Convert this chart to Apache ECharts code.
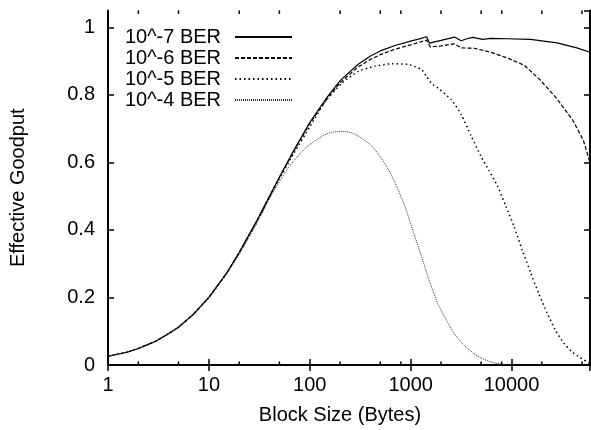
<!DOCTYPE html>
<html><head><meta charset="utf-8">
<script src="https://cdn.jsdelivr.net/npm/echarts@6/dist/echarts.min.js"></script>
<style>html,body{margin:0;padding:0;background:#fff}#c{width:591px;height:430px}</style>
</head><body><div id="c"></div>
<script>
const seriesNames = ['10^-7 BER', '10^-6 BER', '10^-5 BER', '10^-4 BER'];
const xTickLabels = [1, 10, 100, 1000, 10000];
const minorTicks = [2, 5, 20, 50, 200, 500, 800, 2000, 5000, 8000, 20000, 50000];

const x7 = [1, 1.5, 2, 3, 4, 5, 7, 10, 15, 20, 30, 40, 50, 70, 100, 150, 200, 300, 400, 500, 700, 1000, 1200, 1440, 1540, 2000, 2720, 3170, 3600, 4130, 5170, 6240, 9110, 15450, 28270, 44460, 60000];
const y7 = [0.026, 0.037, 0.049, 0.071, 0.093, 0.112, 0.150, 0.200, 0.272, 0.333, 0.428, 0.500, 0.556, 0.637, 0.718, 0.795, 0.842, 0.890, 0.915, 0.930, 0.946, 0.959, 0.965, 0.972, 0.953, 0.961, 0.971, 0.960, 0.966, 0.970, 0.964, 0.967, 0.966, 0.964, 0.954, 0.939, 0.926];

const x6 = [1, 1.5, 2, 3, 4, 5, 7, 10, 15, 20, 30, 40, 50, 70, 100, 150, 200, 300, 400, 500, 700, 1000, 1200, 1440, 1560, 2000, 2720, 3170, 4250, 6240, 9110, 13300, 19100, 27900, 40500, 51600, 60000];
const y6 = [0.026, 0.037, 0.049, 0.071, 0.093, 0.112, 0.150, 0.200, 0.272, 0.333, 0.428, 0.500, 0.555, 0.635, 0.715, 0.790, 0.836, 0.882, 0.905, 0.919, 0.935, 0.948, 0.955, 0.962, 0.942, 0.945, 0.951, 0.939, 0.938, 0.926, 0.909, 0.888, 0.845, 0.790, 0.725, 0.665, 0.599];

const x5 = [1, 1.5, 2, 3, 4, 5, 7, 10, 15, 20, 30, 40, 50, 70, 100, 143, 209, 305, 444, 649, 945, 1280, 1433, 1600, 1870, 2520, 3170, 3980, 4980, 6000, 7260, 8800, 10600, 12800, 15500, 18700, 22500, 27000, 32800, 39500, 47900, 60000];
const y5 = [0.026, 0.037, 0.049, 0.071, 0.093, 0.112, 0.150, 0.200, 0.272, 0.333, 0.427, 0.498, 0.552, 0.628, 0.705, 0.781, 0.835, 0.870, 0.885, 0.892, 0.890, 0.875, 0.855, 0.835, 0.820, 0.786, 0.742, 0.678, 0.618, 0.575, 0.530, 0.470, 0.410, 0.340, 0.273, 0.210, 0.155, 0.105, 0.066, 0.040, 0.022, 0.004];

const x4 = [1, 1.5, 2, 3, 4, 5, 7, 10, 15, 20, 25, 30, 43, 63, 91, 133, 160, 201, 240, 283, 340, 413, 500, 603, 730, 877, 1050, 1280, 1550, 1870, 2340, 2720, 3410, 4200, 4980, 6000, 7000, 8500, 10000];
const y4 = [0.026, 0.037, 0.049, 0.071, 0.093, 0.112, 0.150, 0.200, 0.270, 0.328, 0.378, 0.420, 0.510, 0.589, 0.643, 0.678, 0.688, 0.692, 0.690, 0.683, 0.668, 0.648, 0.617, 0.579, 0.528, 0.470, 0.400, 0.322, 0.245, 0.180, 0.125, 0.092, 0.058, 0.035, 0.021, 0.011, 0.005, 0.001, 0];

const pair = (xs, ys) => xs.map((x, i) => [x, ys[i]]);
const FONT = 'Liberation Sans, Arial, Helvetica, sans-serif';
const FS = 20;

const styles = [
  {color: '#000', width: 1.2, type: 'solid', smooth: false},
  {color: '#000', width: 1.2, type: [4, 2], smooth: false},
  {color: '#000', width: 1.5, type: [1.5, 3], smooth: 0.2},
  {color: '#333', width: 1, type: [1, 1], smooth: 0.2}
];
const dataSets = [pair(x7, y7), pair(x6, y6), pair(x5, y5), pair(x4, y4)];

const lineSeries = seriesNames.map((n, i) => ({
  name: n, type: 'line', data: dataSets[i], symbol: 'none', showSymbol: false,
  smooth: styles[i].smooth, clip: true,
  lineStyle: {color: styles[i].color, width: styles[i].width, type: styles[i].type},
  itemStyle: {color: styles[i].color},
  z: 3
}));

const minorSeries = {
  type: 'custom', silent: true, clip: false, z: 4,
  data: minorTicks.map(v => [v, 0]),
  encode: {x: 0, y: 1},
  renderItem: function (params, api) {
    const v = api.value(0);
    const b = api.coord([v, 0]);
    const t = api.coord([v, 1.05]);
    return {type: 'group', children: [
      {type: 'line', shape: {x1: b[0], y1: b[1], x2: b[0], y2: b[1] - 3.5}, style: {stroke: '#000', lineWidth: 1.5}},
      {type: 'line', shape: {x1: t[0], y1: t[1], x2: t[0], y2: t[1] + 3.5}, style: {stroke: '#000', lineWidth: 1.5}}
    ]};
  }
};

const axisLineStyle = {show: true, lineStyle: {color: '#000', width: 2}};
const xBase = {
  type: 'log', logBase: 10, min: 1, max: 60000,
  splitLine: {show: false}, minorTick: {show: false},
  axisLine: axisLineStyle,
  axisTick: {show: true, inside: true, length: 6, lineStyle: {color: '#000', width: 1.5}}
};
const yBase = {
  type: 'value', min: 0, max: 1.05, interval: 0.2,
  splitLine: {show: false},
  axisLine: axisLineStyle,
  axisTick: {show: true, inside: true, length: 6, lineStyle: {color: '#000', width: 1.5}}
};

const chart = echarts.init(document.getElementById('c'), null, {renderer: 'canvas'});
chart.setOption({
  animation: false,
  backgroundColor: '#fff',
  textStyle: {fontFamily: FONT},
  grid: {left: 104, right: 1, top: 10.4, bottom: 64.3, containLabel: false},
  legend: {
    data: seriesNames, orient: 'vertical', align: 'right',
    right: 298, top: 27, padding: 0, itemGap: 1,
    itemWidth: 57, itemHeight: 10,
    itemStyle: {opacity: 0},
    textStyle: {fontFamily: FONT, fontSize: FS, color: '#000', lineHeight: 20, padding: [0, 9, 0, 0]},
    selectedMode: false
  },
  xAxis: [
    Object.assign({}, xBase, {
      position: 'bottom',
      name: 'Block Size (Bytes)', nameLocation: 'middle', nameGap: 40,
      nameTextStyle: {fontFamily: FONT, fontSize: FS, color: '#000', padding: [0, 18, 0, 0]},
      axisLabel: {
        show: true, margin: 10, fontFamily: FONT, fontSize: FS, color: '#000', showMaxLabel: false,
        formatter: function (v) { const r = Math.round(v); return xTickLabels.indexOf(r) >= 0 && Math.abs(v - r) < 1e-6 * r ? String(r) : ''; }
      }
    }),
    Object.assign({}, xBase, {position: 'top', axisLabel: {show: false}})
  ],
  yAxis: [
    Object.assign({}, yBase, {
      position: 'left',
      name: 'Effective Goodput', nameLocation: 'middle', nameGap: 80, nameRotate: 90,
      nameTextStyle: {fontFamily: FONT, fontSize: FS, color: '#000'},
      axisLabel: {show: true, margin: 13, fontFamily: FONT, fontSize: FS, color: '#000', showMaxLabel: false}
    }),
    Object.assign({}, yBase, {position: 'right', axisLabel: {show: false}})
  ],
  series: lineSeries.concat([minorSeries])
});
</script></body></html>
